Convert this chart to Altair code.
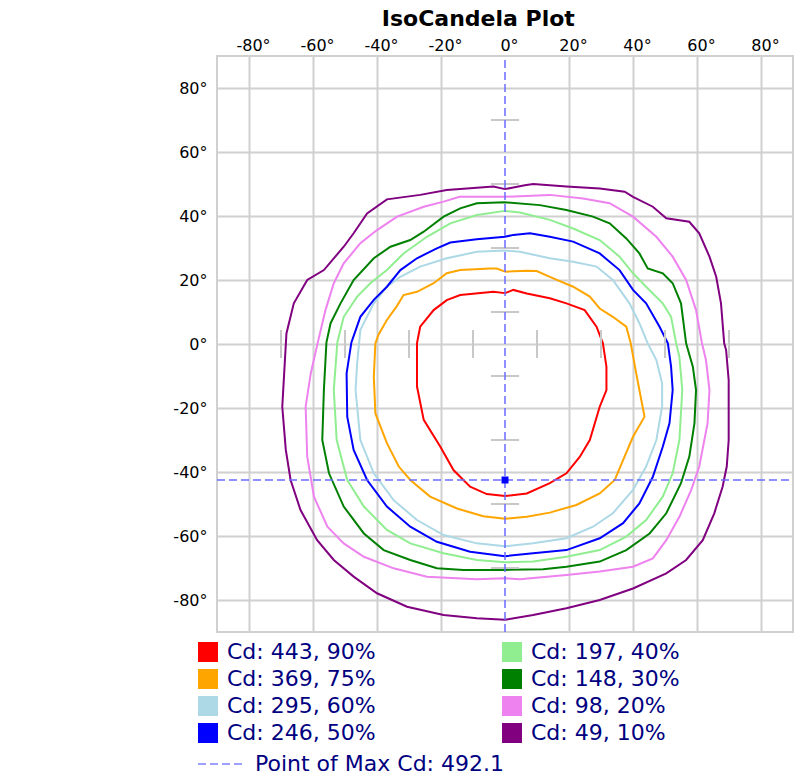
import altair as alt
import pandas as pd

# ---------------- data ----------------
levels = ["Cd: 443, 90%", "Cd: 369, 75%", "Cd: 295, 60%", "Cd: 246, 50%",
          "Cd: 197, 40%", "Cd: 148, 30%", "Cd: 98, 20%", "Cd: 49, 10%"]
colors = ["#FF0000", "#FFA500", "#ADD8E6", "#0000FF",
          "#90EE90", "#008000", "#EE82EE", "#800080"]

c90 = [(0, 15.9), (2.6, 16.9), (6.8, 15.8), (14, 14.3), (19.2, 12.7), (24.9, 10.6), (28.6, 5.4),
       (30.6, 0.2), (31.7, -7.1), (31.7, -14.4), (29.6, -19.6), (26.5, -30), (23.4, -35.2),
       (19.2, -40.4), (14, -43.5), (6.8, -46.7), (0, -47.5), (-5.7, -46.9), (-10.9, -44.6),
       (-16.1, -39.4), (-20.2, -32.1), (-25.4, -23.7), (-27.5, -13.3), (-27.5, 0.3),
       (-26.5, 5.4), (-22.3, 10.6), (-18.2, 13.7), (-14, 15.3), (-3.6, 16.3), (0, 15.9)]
c75 = [(0, 22.6), (6.8, 22.9), (9.9, 22.8), (14, 21), (21.3, 17.9), (26.5, 14.8), (29.6, 11.1),
       (33.7, 8.5), (37.9, 5.4), (39.3, 0.2), (41, -9.2), (42.6, -17.5), (43.6, -22.7), (40, -29),
       (36.9, -36.3), (34.3, -42.5), (29.6, -46.7), (22.3, -50.3), (14, -52.7), (6.8, -54),
       (0, -54.6), (-6.8, -53.8), (-15, -51.4), (-23.4, -47.7), (-29.6, -42.5), (-33.2, -38.3),
       (-36.9, -31), (-40.5, -21.7), (-41, -10.2), (-40.5, 0.2), (-39.5, 3), (-36.9, 7.5),
       (-33.7, 12), (-31.7, 15.3), (-27.5, 16.3), (-22.3, 19), (-18.2, 22.1), (-14, 23.1),
       (-4.7, 23.6), (-2.6, 23.6), (0, 22.6)]
c60 = [(0, 29.2), (4.7, 28.8), (14, 26.8), (21.3, 25.7), (28.6, 24.2), (33.7, 20), (38.9, 12.7),
       (42, 6.5), (44.6, 0.2), (47.3, -5), (49.1, -12.3), (49.1, -19.6), (47.3, -30), (44.1, -38.3),
       (40, -45.6), (33.7, -52.9), (27.5, -57.1), (19.2, -60.7), (8.8, -62.3), (0, -63.2),
       (-8.8, -62.3), (-19.2, -59.7), (-27.5, -55), (-34.8, -48.8), (-41, -40.4), (-45.2, -30),
       (-46.7, -14.4), (-46.2, -6), (-45.2, 4.4), (-41, 12.7), (-36.9, 17.9), (-32.7, 21),
       (-26.5, 24.2), (-18.2, 26.8), (-8.8, 28.8), (0, 29.2)]
c50 = [(0, 33.5), (2.6, 34.1), (7.8, 34.6), (14, 33.5), (21.3, 32), (29.6, 28.3), (35.8, 23.1),
       (40, 16.9), (44.1, 12.7), (48.3, 5.4), (50.9, 0.2), (51.9, -7.1), (52.4, -14.4),
       (51.4, -24.8), (49.3, -32.1), (46.2, -41.5), (42, -49.8), (36.9, -56), (29.6, -60.7),
       (19.2, -64.4), (8.8, -65.4), (0, -66.3), (-10.9, -64.9), (-21.3, -61.8), (-29.6, -57.1),
       (-36.9, -50.8), (-43.1, -42.5), (-47.3, -33.1), (-49.3, -22.7), (-49.5, -9.2), (-48, 0.5),
       (-45.2, 8.5), (-41, 13.8), (-36.9, 17.9), (-32.7, 23.1), (-27.5, 26.8), (-21.3, 29.9),
       (-17.1, 31.7), (-8.8, 32.7), (0, 33.5)]
c40 = [(0, 41.6), (4.7, 41.1), (14, 38.8), (21.3, 36.1), (29.6, 32.5), (35.8, 27.3), (40, 22.1),
       (44.1, 17.9), (49.3, 12.7), (51.9, 8.5), (53.5, 0.2), (54.5, -4), (55.4, -14.4),
       (54.5, -30), (52.4, -40.4), (49.3, -47.7), (44.1, -55), (37.9, -60.2), (29.6, -64.4),
       (19.2, -66.5), (8.8, -68), (0, -68.2), (-8.8, -67.5), (-19.2, -65.4), (-29.6, -62.3),
       (-36.9, -58.1), (-44.1, -50.8), (-49.3, -42.5), (-52.6, -30), (-53.5, -14.4),
       (-52.4, 0.5), (-50.4, 8.5), (-46.2, 14.8), (-42.1, 19), (-36.9, 23.1), (-31.7, 28.3),
       (-24.4, 33.5), (-17.1, 37.7), (-8.8, 40.3), (0, 41.6)]
c30 = [(0, 44.3), (10.9, 43.4), (19.2, 41.9), (27.5, 39.8), (32.7, 37.7), (37.9, 33), (42, 28.3),
       (44.6, 23.6), (49.3, 22.1), (52.4, 19), (55, 12.7), (56.6, 0.2), (58.7, -7.1),
       (59.7, -14.4), (59.2, -24.8), (57.6, -35.2), (55, -43.5), (50.4, -52.9), (45.2, -59.2),
       (37.9, -64.4), (29.6, -68), (19.2, -69.6), (11.9, -70.4), (0, -70.6), (-13, -70.6),
       (-21.3, -70.1), (-29.6, -67.5), (-37.9, -64.4), (-44.1, -59.2), (-50.4, -50.8),
       (-55, -40.4), (-57.1, -30), (-56.6, -14.4), (-55.8, 0.5), (-54.5, 6.5), (-51.4, 12.7),
       (-47.3, 20), (-41, 26.8), (-35.8, 30.4), (-29.6, 32.5), (-25.4, 35.1), (-19.2, 39.8),
       (-14, 42.4), (-8.8, 44), (0, 44.3)]
c20 = [(0, 46), (14, 46.6), (24.4, 45.5), (32.7, 44), (40, 39.8), (47.3, 33.5), (52.4, 27.3),
       (56.6, 20), (59.7, 10.6), (61.5, 0.5), (62.8, -5), (63.9, -14.4), (63.3, -24.8),
       (60.7, -38.3), (58.2, -45.6), (54.5, -54), (50.4, -61.3), (46.2, -67), (40, -69.6),
       (29.6, -71.1), (19.2, -72.2), (4.6, -73.5), (0, -73.2), (-8.8, -73.5), (-24.4, -72.7),
       (-34.8, -70.1), (-44.1, -66.5), (-50.4, -62.3), (-55.5, -57.1), (-59.7, -47.7),
       (-61.8, -35.2), (-62.3, -19.6), (-60.7, -9.2), (-58.5, 0.5), (-56.1, 10.6), (-53.5, 19),
       (-50.4, 25.2), (-45.2, 31.5), (-40, 35.6), (-33.7, 39.8), (-25.4, 42.9), (-19.2, 44.5),
       (-14.2, 46), (0, 46)]
c10 = [(0, 48.4), (1, 48.6), (6.2, 49.6), (8.8, 50), (19.2, 49.2), (29.6, 48.6), (37.4, 47.6),
       (40, 46), (46.2, 42.9), (50.4, 39.3), (57.6, 38.2), (60.7, 34.6), (63.9, 27.3), (66, 21),
       (67.5, 12.7), (68.5, 0.2), (69.1, -1.9), (69.9, -11.3), (69.9, -30), (69.3, -38.3),
       (68, -44.6), (65.4, -52.9), (61.8, -61.3), (56.6, -67.5), (50.4, -71.7), (40, -76.4),
       (29.6, -80), (19.2, -82.6), (8.8, -84.7), (0, -86.2), (-8.8, -85.7), (-19.2, -84.7),
       (-30.6, -82.1), (-40, -77.9), (-47.3, -72.7), (-53.5, -67.5), (-58.7, -61.3),
       (-63.9, -51.9), (-67, -42.5), (-68.5, -33.1), (-69.6, -19.6), (-68.3, 3.3), (-66, 12.7),
       (-61.8, 20), (-56.6, 23.1), (-50.4, 30.4), (-47.3, 34.6), (-43.1, 40.8), (-36.9, 45.2),
       (-26.5, 46.6), (-18.2, 48.1), (-3.6, 49.2), (0, 48.4)]
contours = [c90, c75, c60, c50, c40, c30, c20, c10]

max_label = "Point of Max Cd: 492.1"
max_h, max_v = 0, -42.5

tick_h = [-70, -50, -30, -10, 10, 30, 50, 70]   # small vertical marks on the 0° row
tick_v = [70, 50, 30, 10, -10, -30, -50, -70]   # small horizontal marks on the 0° column
tick_half = 4.4

axis_values = [-80, -60, -40, -20, 0, 20, 40, 60, 80]

# ---------------- tables ----------------
rows = []
for lvl, pts in zip(levels, contours):
    for i, (h, v) in enumerate(pts):
        rows.append({"level": lvl, "idx": i, "h": h, "v": v})
df = pd.DataFrame(rows)

tick_rows = [{"h": h, "h2": h, "v": -tick_half, "v2": tick_half} for h in tick_h]
tick_rows += [{"h": -tick_half, "h2": tick_half, "v": v, "v2": v} for v in tick_v]
ticks_df = pd.DataFrame(tick_rows)

cross_df = pd.DataFrame([
    {"name": max_label, "h": max_h, "h2": max_h, "v": -90, "v2": 90},
    {"name": max_label, "h": -90, "h2": 90, "v": max_v, "v2": max_v},
])
max_df = pd.DataFrame([{"h": max_h, "v": max_v}])
leg_df = pd.DataFrame([{"key": l, "h": 0, "v": 0} for l in levels])

xs = alt.Scale(domain=[-90, 90], nice=False, zero=False)
ys = alt.Scale(domain=[-90, 90], nice=False, zero=False)
GRID = "#d0d0d0"
FONT = "DejaVu Sans"

x_axis = alt.Axis(orient="top", values=axis_values, labelExpr="datum.value + '°'", title=None,
                  ticks=False, tickSize=0, domain=False, grid=True, gridWidth=2,
                  gridColor={"condition": {"test": "datum.value === 0", "value": "transparent"},
                             "value": GRID},
                  labelFont=FONT, labelFontSize=16, labelColor="black",
                  labelBaseline="alphabetic", labelPadding=6, labelOffset=4)
y_axis = alt.Axis(orient="left", values=axis_values, labelExpr="datum.value + '°'", title=None,
                  ticks=False, tickSize=0, domain=False, grid=True, gridWidth=2, gridColor=GRID,
                  labelFont=FONT, labelFontSize=16, labelColor="black",
                  labelAlign="right", labelBaseline="middle", labelPadding=10)


def X(f="h"):
    return alt.X(f + ":Q", scale=xs, axis=x_axis)


def Y(f="v"):
    return alt.Y(f + ":Q", scale=ys, axis=y_axis)


# line scale uses reversed order so it is not merged with the (filled) legend scale
lines = alt.Chart(df).mark_line(strokeWidth=2).encode(
    x=X(), y=Y(),
    stroke=alt.Stroke("level:N", scale=alt.Scale(domain=levels[::-1], range=colors[::-1]),
                      legend=None),
    detail="level:N",
    order="idx:Q",
)

marks = alt.Chart(ticks_df).mark_rule(color="#c8c8c8", strokeWidth=2).encode(
    x=X(), x2="h2:Q", y=Y(), y2="v2:Q",
)

cross = alt.Chart(cross_df).mark_rule(color="#6b6bff", strokeWidth=1.5).encode(
    x=X(), x2="h2:Q", y=Y(), y2="v2:Q",
    strokeDash=alt.StrokeDash("name:N", scale=alt.Scale(domain=[max_label], range=[[8, 4]]),
                              legend=alt.Legend(orient="none", legendX=-20, legendY=684,
                                                title=None, symbolType="stroke", symbolSize=2116,
                                                symbolStrokeColor="#8080ff", symbolStrokeWidth=1.5,
                                                labelFont=FONT, labelFontSize=22,
                                                labelColor="#000080", labelOffset=10,
                                                padding=0, labelLimit=400)),
)

maxpt = alt.Chart(max_df).mark_square(size=49, filled=True, color="#0000ff", opacity=1).encode(
    x=X(), y=Y(),
)

legend_layer = alt.Chart(leg_df).mark_square(filled=True, size=400, opacity=1).encode(
    x=X(), y=Y(),
    fill=alt.Fill("key:N", scale=alt.Scale(domain=levels, range=colors),
                  legend=alt.Legend(orient="none", legendX=-20, legendY=585, title=None,
                                    columns=2, symbolType="square", symbolSize=400,
                                    symbolStrokeWidth=0, symbolOpacity=1,
                                    labelFont=FONT, labelFontSize=22, labelColor="#000080",
                                    labelOffset=8, columnPadding=125, rowPadding=5,
                                    padding=0, labelLimit=400)),
).transform_filter("false")

chart = alt.layer(lines, marks, cross, maxpt, legend_layer).properties(
    width=576, height=576,
    title=alt.Title("IsoCandela Plot", font=FONT, fontSize=22, fontWeight="bold",
                    color="black", anchor="middle", frame="bounds", offset=6, dx=-5),
    autosize=alt.AutoSizeParams(type="none"),
    padding={"left": 209, "top": 48, "right": 2, "bottom": 142},
).configure_view(stroke=GRID, strokeWidth=2)

chart.save("out.html", embed_options={"renderer": "svg", "actions": False})
